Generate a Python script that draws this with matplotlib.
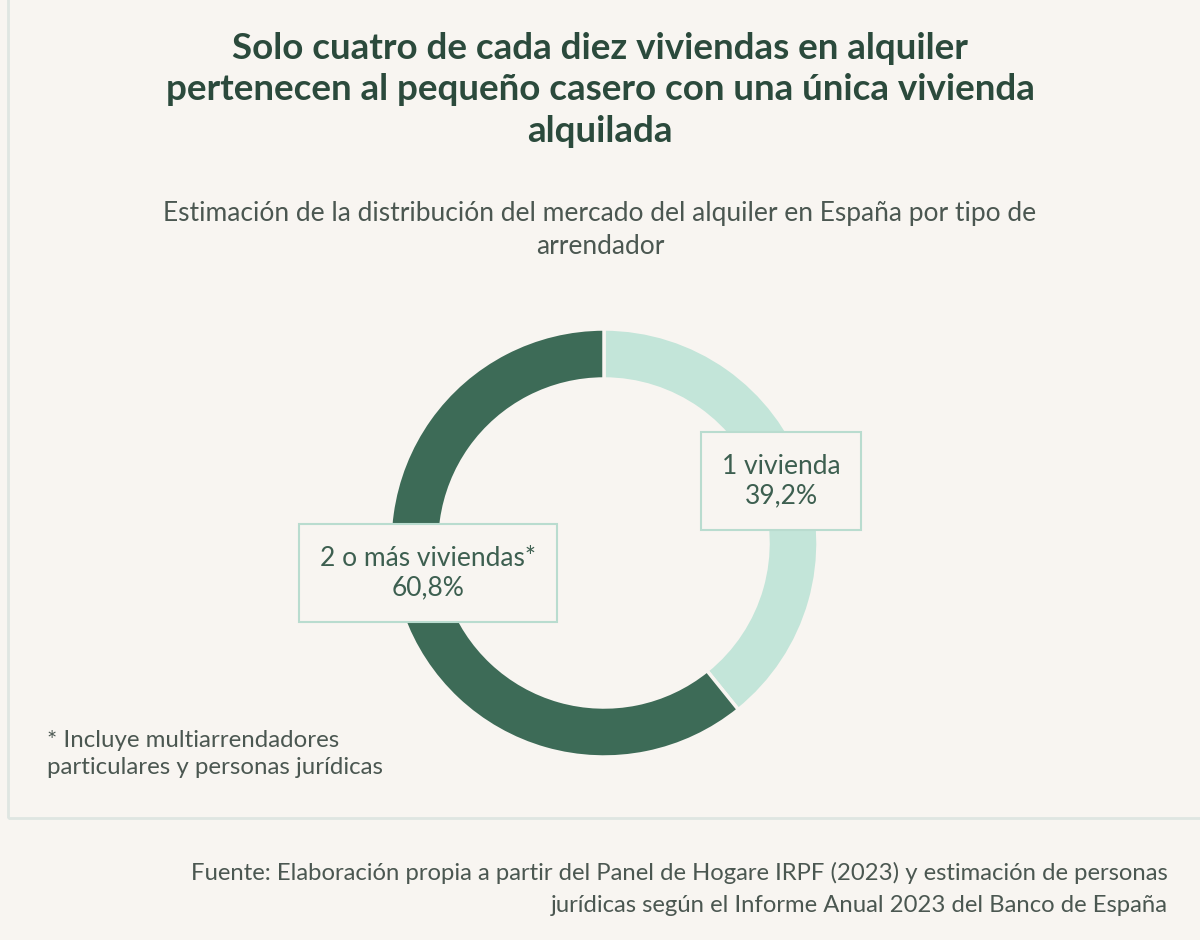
import matplotlib.pyplot as plt
from matplotlib.patches import Rectangle

# data
labels = ["1 vivienda", "2 o más viviendas*"]
shares = [39.2, 60.8]
colors = ["#c3e5d9", "#3d6b57"]

bg = "#f8f5f1"
txt_dark = "#2b4a3c"
txt_grey = "#4b5751"
box_edge = "#b9dccf"

plt.rcParams['font.family'] = ['Lato', 'DejaVu Sans']

fig = plt.figure(figsize=(12, 9.4), dpi=100)
fig.patch.set_facecolor(bg)

# panel border (left + bottom visible)
fig.patches.append(Rectangle((8/1200, (940-818)/940), 1.2, 1.0, transform=fig.transFigure,
                             fill=False, edgecolor="#dfe6e2", linewidth=2))

fig.text(0.5, 1-90/940, "Solo cuatro de cada diez viviendas en alquiler\n"
         "pertenecen al pequeño casero con una única vivienda\nalquilada",
         ha="center", va="center", fontsize=26.5, fontweight="bold", color=txt_dark,
         linespacing=1.3)
fig.text(0.5, 1-230/940, "Estimación de la distribución del mercado del alquiler en España por tipo de\narrendador",
         ha="center", va="center", fontsize=19, color=txt_grey, linespacing=1.4)

ax = fig.add_axes([(604-214)/1200, (940-757)/940, 428/1200, 428/940])
ax.set_facecolor(bg)
ax.pie(shares, colors=colors, startangle=90, counterclock=False, radius=1,
       wedgeprops=dict(width=50/214, edgecolor=bg, linewidth=2.5))
ax.set_xlim(-1, 1)
ax.set_ylim(-1, 1)
ax.set_aspect("equal")
ax.axis("off")

box = dict(boxstyle="square,pad=0.8", facecolor=bg, edgecolor=box_edge, linewidth=1.5)
fig.text(781/1200, 1-481/940, f"{labels[0]}\n{shares[0]:.1f}%".replace(".", ","),
         ha="center", va="center", fontsize=19, color="#3d5f50", bbox=box, linespacing=1.25)
fig.text(428/1200, 1-573/940, f"{labels[1]}\n{shares[1]:.1f}%".replace(".", ","),
         ha="center", va="center", fontsize=19, color="#3d5f50", bbox=box, linespacing=1.25)

fig.text(47/1200, 1-754/940, "* Incluye multiarrendadores\nparticulares y personas jurídicas",
         ha="left", va="center", fontsize=17.3, color=txt_grey, linespacing=1.35)

fig.text(1168/1200, 1-889/940, "Fuente: Elaboración propia a partir del Panel de Hogare IRPF (2023) y estimación de personas\n"
         "jurídicas según el Informe Anual 2023 del Banco de España",
         ha="right", va="center", fontsize=17.2, color=txt_grey, linespacing=1.6, multialignment="right")

fig.savefig("out.png", dpi=100, facecolor=bg)
